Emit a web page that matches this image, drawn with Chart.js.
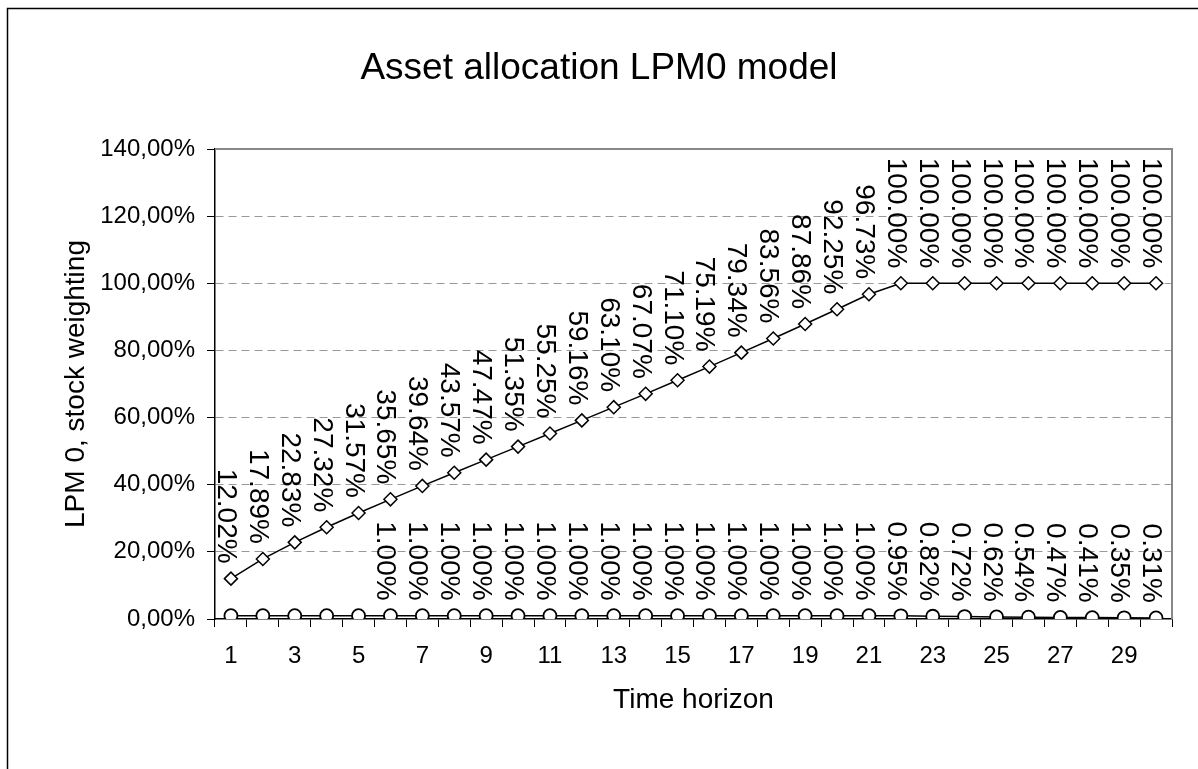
<!DOCTYPE html>
<html>
<head>
<meta charset="utf-8">
<script src="https://cdn.jsdelivr.net/npm/chart.js@4/dist/chart.umd.min.js"></script>
<style>
  body { margin: 0; background: #fff; }
</style>
</head>
<body>
<canvas id="grafica" width="1198" height="769"></canvas>
<script>
// Horizonte temporal (categorías del eje x)
const horizontes = ["1", "2", "3", "4", "5", "6", "7", "8", "9", "10",
    "11", "12", "13", "14", "15", "16", "17", "18", "19", "20",
    "21", "22", "23", "24", "25", "26", "27", "28", "29", "30"];
// Peso de acciones (%)
const pesoAcciones = [12.02, 17.89, 22.83, 27.32, 31.57, 35.65, 39.64, 43.57, 47.47, 51.35,
    55.25, 59.16, 63.10, 67.07, 71.10, 75.19, 79.34, 83.56, 87.86, 92.25,
    96.73, 100, 100, 100, 100, 100, 100, 100, 100, 100];
// Serie inferior (%)
const serieInferior = [1, 1, 1, 1, 1, 1, 1, 1, 1, 1,
    1, 1, 1, 1, 1, 1, 1, 1, 1, 1,
    1, 0.95, 0.82, 0.72, 0.62, 0.54, 0.47, 0.41, 0.35, 0.31];
// Primer índice de la serie inferior que lleva etiqueta
const primeraEtiquetaInferior = 5;
// Marcas del eje y
const marcasY = [0, 20, 40, 60, 80, 100, 120, 140];

const fuente = "'Liberation Sans', Arial, sans-serif";

// Etiquetas de datos giradas 90 grados, encima de cada punto
const etiquetasDatos = {
    id: 'etiquetasDatos',
    afterDatasetsDraw(chart) {
        const ctx = chart.ctx;
        ctx.save();
        ctx.font = "28px " + fuente;
        ctx.fillStyle = '#000';
        ctx.textAlign = 'right';
        ctx.textBaseline = 'alphabetic';
        chart.data.datasets.forEach((ds, i) => {
            const meta = chart.getDatasetMeta(i);
            meta.data.forEach((p, j) => {
                if (j < ds.desde) return;
                ctx.save();
                ctx.translate(p.x - 13, p.y - 15);
                ctx.rotate(Math.PI / 2);
                ctx.fillText(ds.data[j].toFixed(2) + '%', 0, 0);
                ctx.restore();
            });
        });
        ctx.restore();
    }
};

// Marco exterior y bordes grises del área de trazado
const marcos = {
    id: 'marcos',
    beforeDatasetsDraw(chart) {
        const {ctx, chartArea: a} = chart;
        ctx.save();
        ctx.strokeStyle = '#888';
        ctx.lineWidth = 2;
        ctx.beginPath();
        ctx.moveTo(a.left, a.top);
        ctx.lineTo(a.right, a.top);
        ctx.lineTo(a.right, a.bottom);
        ctx.stroke();
        ctx.restore();
    },
    afterDraw(chart) {
        const ctx = chart.ctx;
        ctx.save();
        ctx.strokeStyle = '#000';
        ctx.lineWidth = 1.5;
        ctx.strokeRect(7.5, 8.5, 1300, 900);
        ctx.restore();
    }
};

const $grafica = document.querySelector("#grafica");
new Chart($grafica, {
    type: 'line',
    data: {
        labels: horizontes,
        datasets: [
            {
                data: pesoAcciones,
                desde: 0,
                borderColor: '#000',
                borderWidth: 1.5,
                pointStyle: 'rectRot',
                pointRadius: 6.5,
                pointBackgroundColor: '#fff',
                pointBorderColor: '#000',
                pointBorderWidth: 1.5,
                tension: 0,
            },
            {
                data: serieInferior,
                desde: primeraEtiquetaInferior,
                borderColor: '#000',
                borderWidth: 1.5,
                pointStyle: 'circle',
                pointRadius: 6.5,
                pointBackgroundColor: '#fff',
                pointBorderColor: '#000',
                pointBorderWidth: 1.8,
                tension: 0,
            }
        ]
    },
    options: {
        responsive: false,
        animation: false,
        layout: { padding: 0 },
        plugins: {
            legend: { display: false },
            tooltip: { enabled: false },
            title: {
                display: true,
                text: 'Asset allocation LPM0 model',
                color: '#000',
                font: { family: fuente, size: 37, weight: 'normal', lineHeight: 1.2 },
                padding: { top: 47, bottom: 57.6 }
            }
        },
        scales: {
            x: {
                offset: true,
                afterFit(scale) { scale.height = 150; },
                grid: {
                    offset: true,
                    drawOnChartArea: false,
                    tickLength: 8,
                    tickColor: '#000',
                    tickWidth: 1
                },
                border: { color: '#000', width: 1.5 },
                ticks: {
                    autoSkip: false,
                    maxRotation: 0,
                    padding: 15,
                    color: '#000',
                    font: { family: fuente, size: 24 },
                    callback(v, i) { return i % 2 === 0 ? horizontes[i] : ''; }
                },
                title: {
                    display: true,
                    text: 'Time horizon',
                    color: '#000',
                    font: { family: fuente, size: 28 },
                    padding: { top: 0, bottom: 52 }
                }
            },
            y: {
                min: 0,
                max: 140,
                afterFit(scale) { scale.width = 215; },
                afterBuildTicks(scale) { scale.ticks = marcasY.map(v => ({ value: v })); },
                grid: {
                    color: c => (c.tick.value === 0 || c.tick.value === 140) ? 'rgba(0,0,0,0)' : '#999',
                    lineWidth: 1,
                    tickLength: 8,
                    tickColor: '#000',
                    tickWidth: 1
                },
                border: { color: '#000', width: 1.5, dash: [8, 5] },
                ticks: {
                    padding: 12,
                    color: '#000',
                    font: { family: fuente, size: 24 },
                    callback: v => v.toFixed(2).replace('.', ',') + '%'
                },
                title: {
                    display: true,
                    text: 'LPM 0, stock weighting',
                    color: '#000',
                    font: { family: fuente, size: 28 },
                    padding: { top: 59, bottom: 0 }
                }
            },
            // eje vacío a la derecha: solo reserva el margen derecho
            margen: {
                type: 'linear',
                position: 'right',
                afterFit(scale) { scale.width = 26; },
                grid: { display: false },
                border: { display: false },
                ticks: { display: false }
            }
        }
    },
    plugins: [marcos, etiquetasDatos]
});
</script>
</body>
</html>
